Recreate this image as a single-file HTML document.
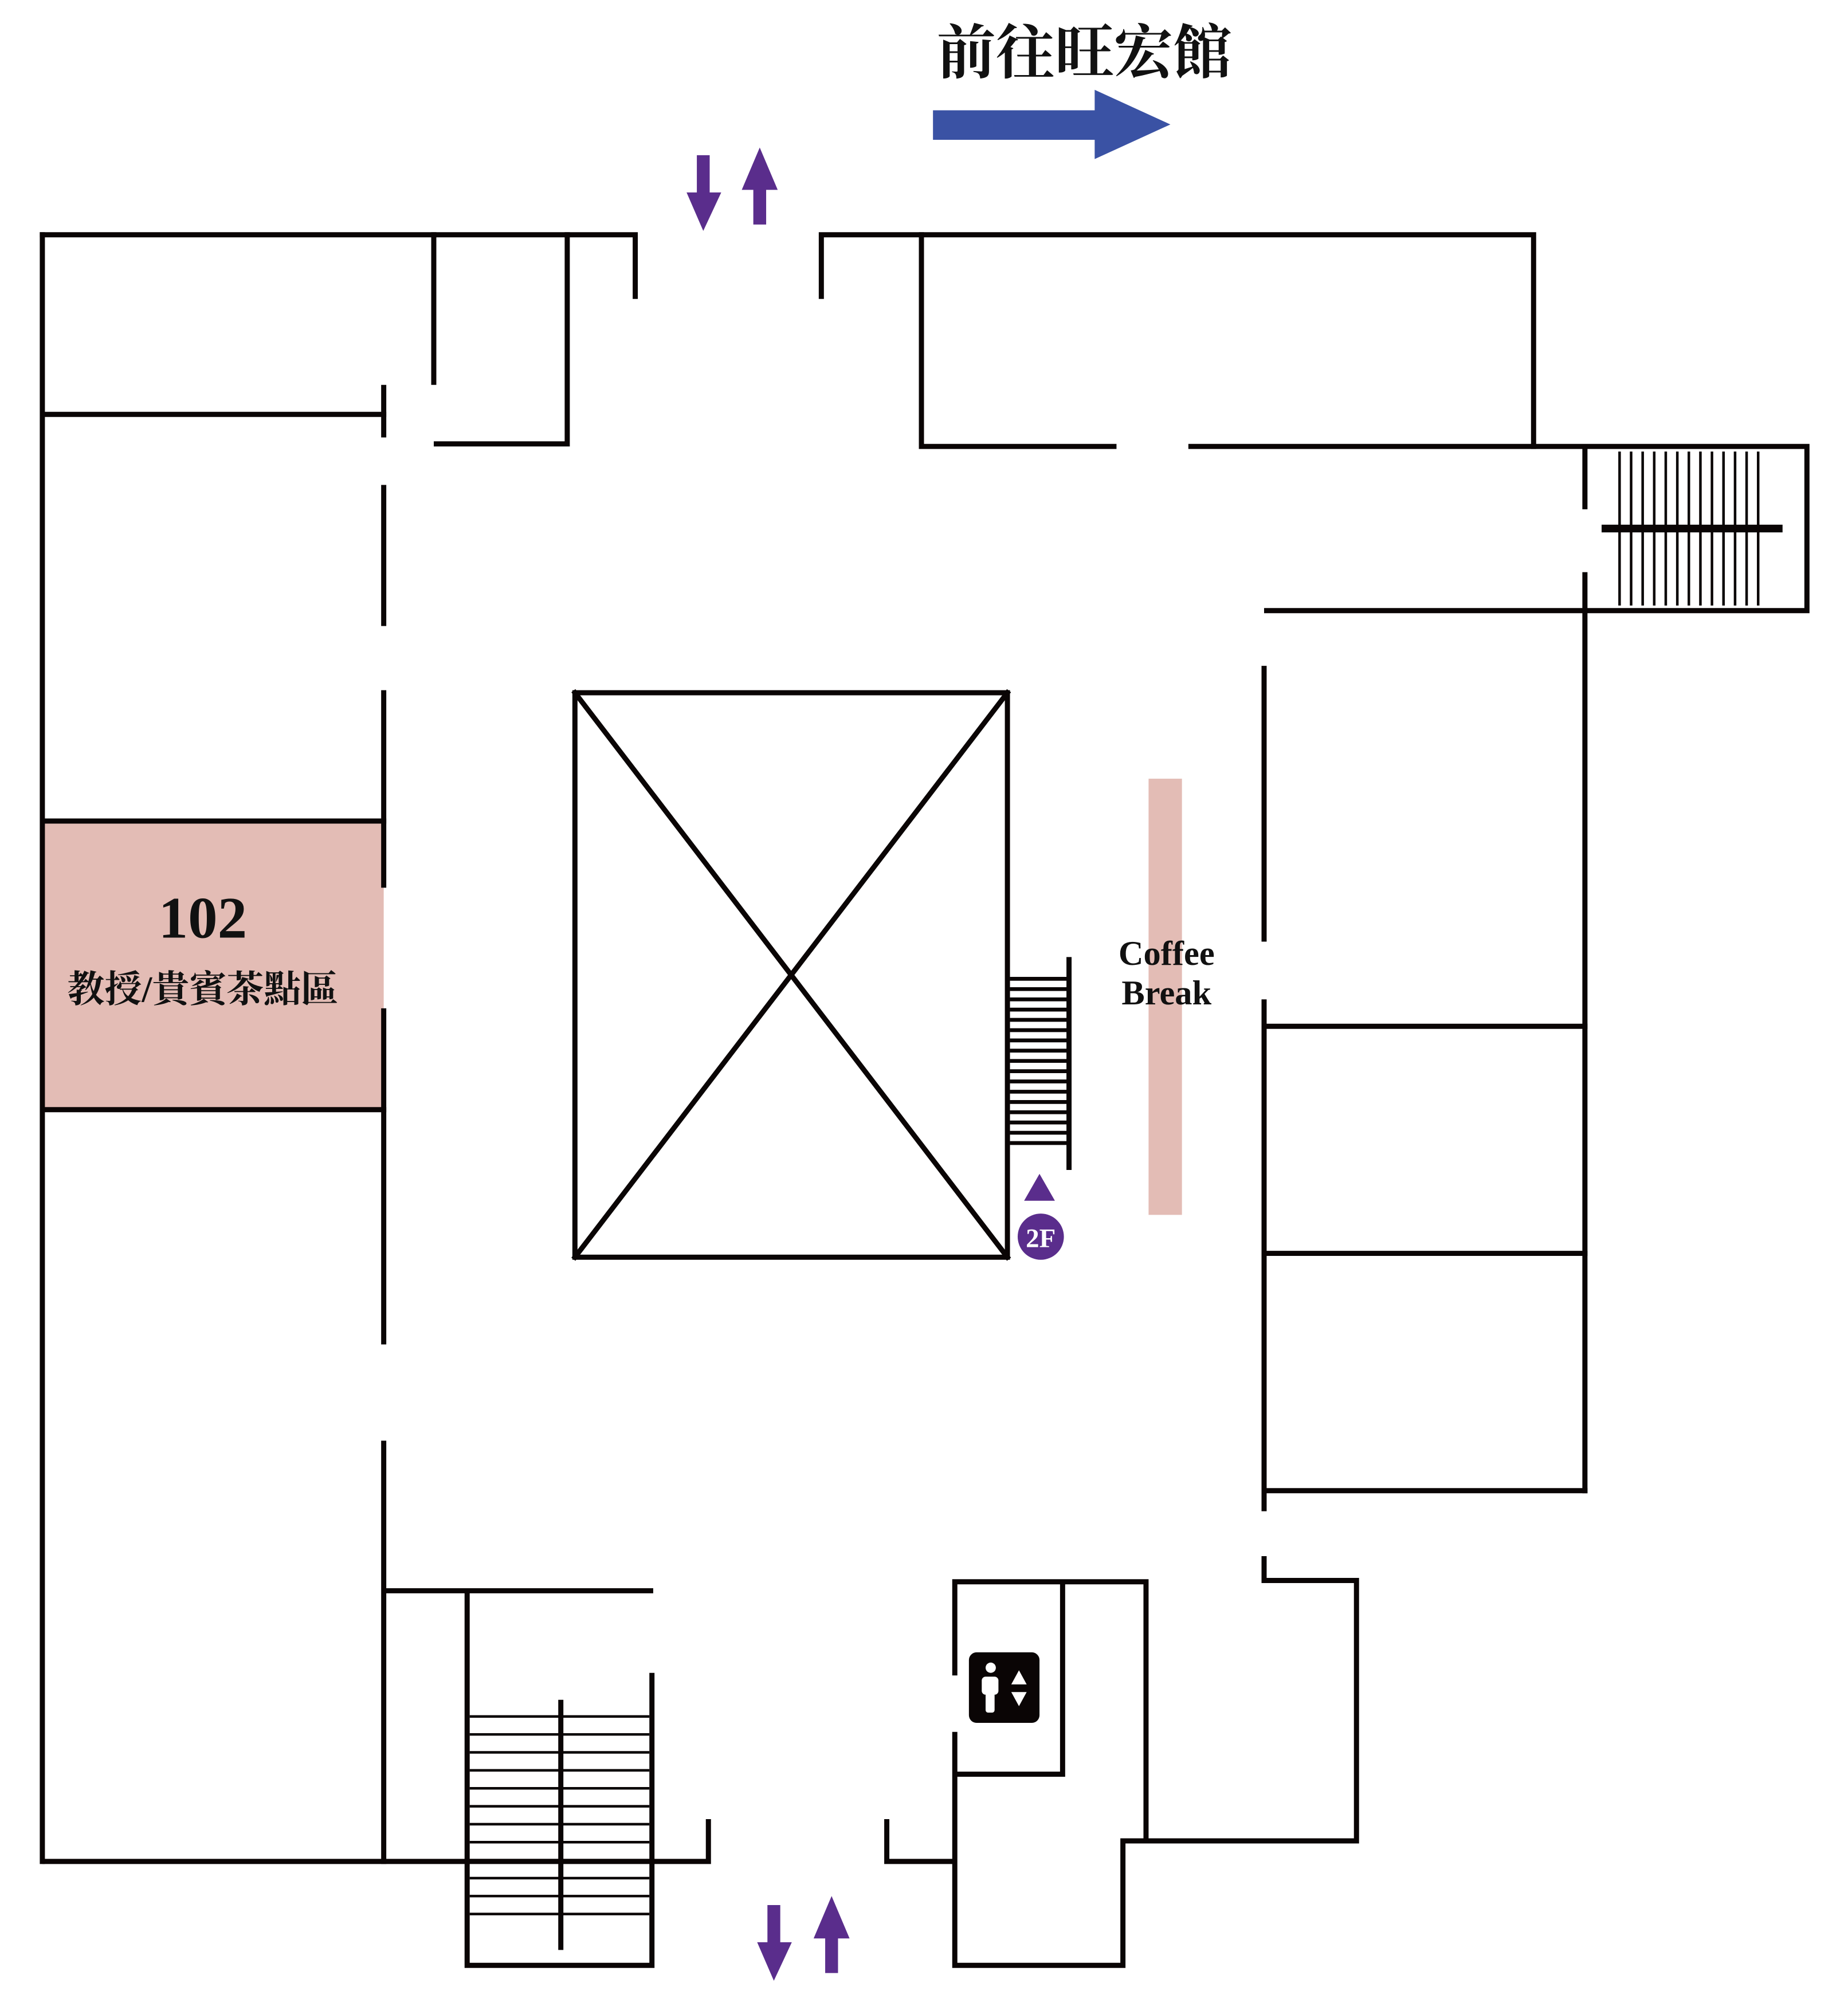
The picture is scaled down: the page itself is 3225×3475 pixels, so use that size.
<!DOCTYPE html>
<html><head><meta charset="utf-8"><style>
html,body{margin:0;padding:0;background:#fff;}
svg{display:block;}
</style></head><body>
<svg width="3225" height="3475" viewBox="0 0 1440 1552" preserveAspectRatio="none" xmlns="http://www.w3.org/2000/svg">
<rect x="0" y="0" width="1440" height="1552" fill="#fff"/>
<!-- pink areas -->
<rect x="33" y="640" width="266" height="225" fill="#e3bcb5"/>
<rect x="895" y="607" width="26" height="340" fill="#e3bcb5"/>
<g stroke="#0a0505" stroke-width="4" fill="none" stroke-linecap="square">
<!-- top left -->
<path d="M33,183 H495 V231"/>
<path d="M33,183 V1451"/>
<path d="M338,183 V298"/>
<path d="M442,183 V346 H340"/>
<path d="M35,323 H299"/>
<path d="M299,302 V339 M299,380 V486 M299,540 V690 M299,788 V1046 M299,1125 V1451"/>
<path d="M35,640 H299 M35,865 H299"/>
<!-- top right -->
<path d="M640,231 V183 H1195 V348"/>
<path d="M718,183 V348 H868"/>
<path d="M928,348 H1408 V476 H987"/>
<path d="M1235,350 V395 M1235,448 V1162"/>
<!-- right rooms -->
<path d="M985,521 V732 M985,781 V1176 M985,1215 V1232 H1057 V1435 H875 V1532 H744 V1352"/>
<path d="M744,1304 V1233 H893 V1435"/>
<path d="M828,1235 V1383 H746"/>
<path d="M987,800 H1235 M987,977 H1235 M987,1162 H1235"/>
<path d="M691,1420 V1451 H742"/>
<!-- bottom left -->
<path d="M35,1451 H552 V1420"/>
<path d="M301,1240 H507"/>
<path d="M364,1242 V1532 H508 V1306"/>
<path d="M437,1327 V1518"/>
<!-- central void -->
<rect x="448" y="540" width="337" height="440"/>
<path d="M448,540 L785,980 M785,540 L448,980"/>
<path d="M833,748 V910"/>
</g>
<!-- stair bar -->
<rect x="1248" y="409" width="141" height="6" fill="#0a0505"/>
<!-- stair treads right -->
<g stroke="#0a0505" stroke-width="2">
<path d="M1262,352V472 M1271,352V472 M1280,352V472 M1289,352V472 M1298,352V472 M1307,352V472 M1316,352V472 M1325,352V472 M1334,352V472 M1343,352V472 M1352,352V472 M1361,352V472 M1370,352V472"/>
<!-- bottom stair treads -->
<path d="M366,1338H506 M366,1352H506 M366,1366H506 M366,1380H506 M366,1394H506 M366,1408H506 M366,1422H506 M366,1436H506 M366,1450H506 M366,1464H506 M366,1478H506 M366,1492H506"/>
</g>
<!-- small stair treads -->
<g stroke="#0a0505" stroke-width="3">
<path d="M787,763H833 M787,771H833 M787,779H833 M787,787H833 M787,795H833 M787,803H833 M787,811H833 M787,819H833 M787,827H833 M787,835H833 M787,843H833 M787,851H833 M787,859H833 M787,867H833 M787,875H833 M787,883H833 M787,891H833"/>
</g>
<!-- 2F marker -->
<polygon points="810,915 798,936 822,936" fill="#5a2d8c"/>
<circle cx="811" cy="964" r="18" fill="#5a2d8c"/>
<text x="811" y="972" fill="#fff" font-family="Liberation Serif, serif" font-size="21" font-weight="bold" text-anchor="middle">2F</text>
<!-- labels -->
<text x="158" y="731" font-family="Liberation Serif, serif" font-size="46" font-weight="bold" text-anchor="middle" fill="#111">102</text>
<text x="158" y="781" font-family="Liberation Serif, 'Noto Serif CJK SC', serif" font-size="29" font-weight="bold" text-anchor="middle" fill="#111">教授/貴賓茶點區</text>
<text x="909" y="752" font-family="Liberation Serif, serif" font-size="27" font-weight="bold" text-anchor="middle" fill="#111">Coffee</text>
<text x="909" y="783" font-family="Liberation Serif, serif" font-size="27" font-weight="bold" text-anchor="middle" fill="#111">Break</text>
<text x="845" y="57" font-family="Liberation Serif, 'Noto Serif CJK SC', serif" font-size="46" font-weight="bold" text-anchor="middle" fill="#111">前往旺宏館</text>
<!-- blue arrow -->
<polygon points="727,86 853,86 853,70 912,97 853,124 853,109 727,109" fill="#3a52a4"/>
<!-- purple arrows top -->
<g fill="#5a2d8c">
<polygon points="543,121 553,121 553,150 562,150 548,180 535,150 543,150"/>
<polygon points="592,115 606,148 597,148 597,175 587,175 587,148 578,148"/>
<polygon points="598,1485 608,1485 608,1514 617,1514 603,1544 590,1514 598,1514"/>
<polygon points="648,1478 662,1511 653,1511 653,1538 643,1538 643,1511 634,1511"/>
</g>
<!-- elevator icon -->
<rect x="755" y="1288" width="55" height="55" rx="6" fill="#0a0505"/>
<circle cx="772" cy="1300" r="4" fill="#fff"/>
<rect x="765" y="1307" width="13" height="14" rx="3" fill="#fff"/>
<rect x="768" y="1318" width="7" height="17" rx="2" fill="#fff"/>
<polygon points="794,1302 788,1313 800,1313" fill="#fff"/>
<polygon points="794,1330 788,1319 800,1319" fill="#fff"/>
</svg>
</body></html>
